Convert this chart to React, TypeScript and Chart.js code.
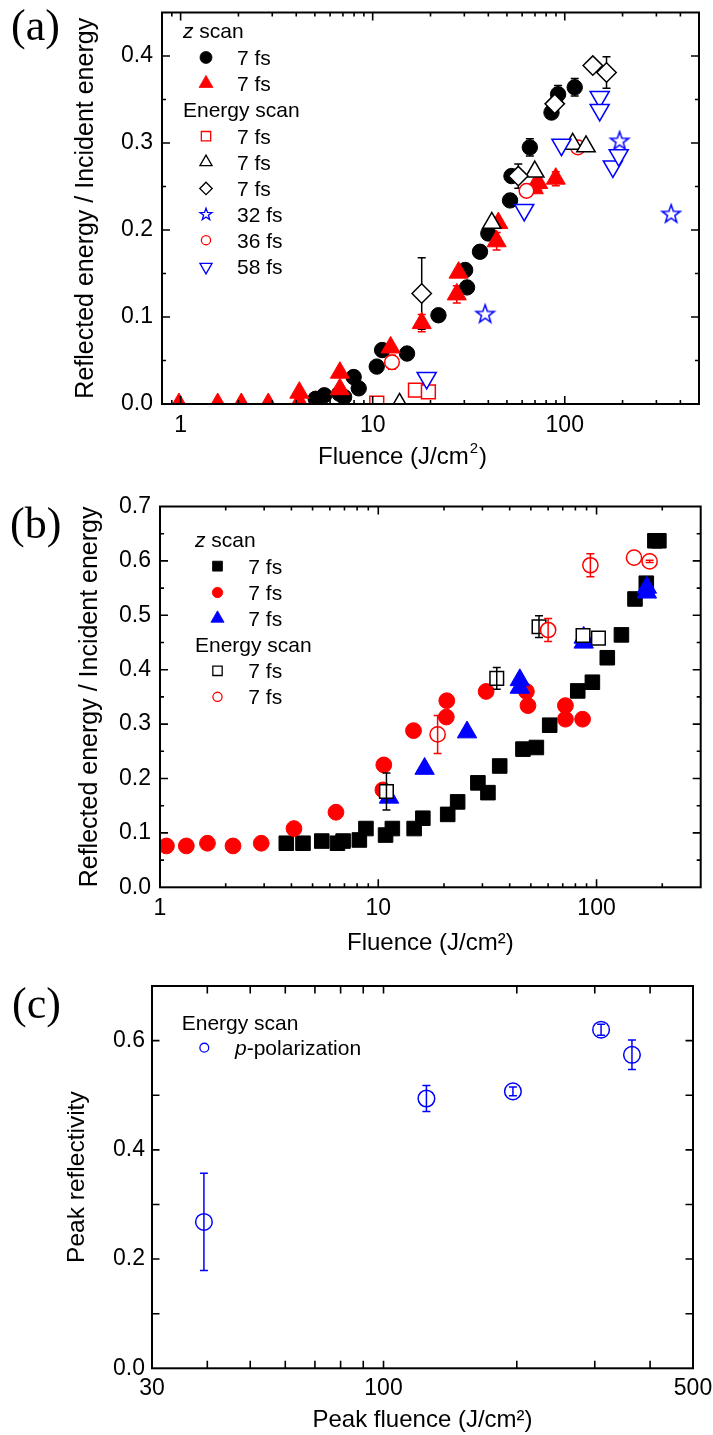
import React, { useEffect, useRef } from 'react';
import { Chart, registerables } from 'chart.js';

Chart.register(...registerables);

const SANS = '"Liberation Sans", Arial, Helvetica, sans-serif';
const SERIF = '"Liberation Serif", "Times New Roman", serif';
const RED = '#ff0000';
const BLUE = '#0000ff';
const BLACK = '#000000';

// ================= Panel (a) data =================
const A_X_TICKS = [1, 10, 100];
const A_Y_TICKS = [0, 0.1, 0.2, 0.3, 0.4];

const A_ZSCAN_CIRCLE_X = [5.05, 5.6, 6.7, 7.1, 7.96, 8.46, 10.5, 11.2, 15.1, 22, 30.3, 31, 36.2, 40, 51.9, 52.8, 65.8, 85.3, 92.3, 112.7];
const A_ZSCAN_CIRCLE_Y = [0.006, 0.01, 0.012, 0.008, 0.031, 0.018, 0.043, 0.062, 0.058, 0.102, 0.154, 0.134, 0.175, 0.196, 0.234, 0.262, 0.295, 0.335, 0.356, 0.364];
const A_ZSCAN_CIRCLE_ERR = [0, 0, 0, 0, 0, 0, 0, 0, 0, 0, 0, 0, 0, 0, 0, 0, 0.01, 0, 0.01, 0.01];

const A_ZSCAN_TRI_X = [0.98, 1.56, 2.07, 2.86, 4.15, 4.15, 6.75, 6.75, 12.4, 18.0, 27.4, 28.0, 44.2, 45.1, 69, 72.8, 89.8];
const A_ZSCAN_TRI_Y = [0, 0, 0, 0, 0.013, 0.002, 0.036, 0.017, 0.065, 0.093, 0.126, 0.151, 0.187, 0.208, 0.248, 0.254, 0.259];
const A_ZSCAN_TRI_ERR = [0, 0, 0, 0, 0, 0, 0, 0, 0, 0.01, 0.01, 0, 0.01, 0, 0, 0.008, 0.008];

const A_E_SQUARE_X = [10.5, 16.7, 19.5];
const A_E_SQUARE_Y = [0.001, 0.016, 0.014];

const A_E_CIRCLE36_X = [12.6, 63.2, 117];
const A_E_CIRCLE36_Y = [0.048, 0.245, 0.295];
const A_E_CIRCLE36_ERR = [0.008, 0.006, 0];

const A_E_TRI_X = [13.8, 41.7, 69.8, 110, 129];
const A_E_TRI_Y = [0, 0.208, 0.267, 0.299, 0.296];

const A_E_DIAMOND_X = [18.0, 57.3, 88.7, 140, 165];
const A_E_DIAMOND_Y = [0.127, 0.262, 0.345, 0.389, 0.381];
const A_E_DIAMOND_ERR = [0.041, 0.014, 0, 0.005, 0.018];

const A_E_STAR32_X = [38.5, 193, 358];
const A_E_STAR32_Y = [0.104, 0.303, 0.219];

const A_E_DTRI58_X = [19.1, 61.5, 96.1, 152, 152, 178, 191];
const A_E_DTRI58_Y = [0.03, 0.223, 0.298, 0.353, 0.338, 0.273, 0.286];

// ================= Panel (b) data =================
const B_X_TICKS = [1, 10, 100];
const B_Y_TICKS = [0, 0.1, 0.2, 0.3, 0.4, 0.5, 0.6, 0.7];

const B_ZSCAN_SQ_X = [3.79, 4.52, 5.51, 6.5, 6.9, 8.19, 8.78, 10.8, 11.6, 14.6, 16.0, 20.8, 23.1, 28.6, 31.8, 36, 46, 53, 61, 82, 95.7, 112, 130, 150, 169, 185, 193];
const B_ZSCAN_SQ_Y = [0.081, 0.081, 0.085, 0.081, 0.085, 0.087, 0.108, 0.096, 0.108, 0.108, 0.127, 0.134, 0.157, 0.192, 0.174, 0.223, 0.254, 0.257, 0.298, 0.361, 0.377, 0.422, 0.464, 0.53, 0.559, 0.637, 0.637];

const B_ZSCAN_CIR_X = [1.07, 1.32, 1.65, 2.16, 2.91, 4.11, 6.4, 10.5, 10.6, 14.5, 20.5, 20.6, 31.2, 47.7, 48.5, 72, 72, 86.3];
const B_ZSCAN_CIR_Y = [0.076, 0.076, 0.081, 0.076, 0.081, 0.108, 0.138, 0.179, 0.225, 0.288, 0.313, 0.343, 0.36, 0.36, 0.334, 0.334, 0.309, 0.309];

const B_ZSCAN_TRI_X = [11.2, 16.3, 25.5, 44.5, 44.5, 87.3, 87.3, 170, 170];
const B_ZSCAN_TRI_Y = [0.165, 0.218, 0.285, 0.381, 0.367, 0.459, 0.45, 0.551, 0.542];

const B_E_SQ_X = [10.9, 34.9, 54.5, 86.7, 102];
const B_E_SQ_Y = [0.176, 0.384, 0.479, 0.463, 0.458];
const B_E_SQ_ERR = [0.034, 0.02, 0.02, 0, 0];

const B_E_CIR_X = [18.7, 60, 93.7, 148.5, 175];
const B_E_CIR_Y = [0.281, 0.473, 0.592, 0.606, 0.599];
const B_E_CIR_ERR = [0.035, 0.021, 0.021, 0, 0.002];

// ================= Panel (c) data =================
const C_X_TICKS = [30, 100, 500];
const C_Y_TICKS = [0, 0.2, 0.4, 0.6];
const C_P_X = [39.3, 125, 196, 310, 364];
const C_P_Y = [0.268, 0.494, 0.507, 0.62, 0.574];
const C_P_ERR = [0.089, 0.024, 0.008, 0.01, 0.027];

// ================= Types & helpers =================
type MStyle = 'circle' | 'triangle' | 'triangleDown' | 'rect' | 'rectRot' | 'star';

interface Series {
  label: string;
  x: number[];
  y: number[];
  err?: number[];
  style: MStyle;
  color: string;
  filled: boolean;
  r: number;
}

interface LegendRow {
  y: number;
  header?: string;
  italic?: string;
  series?: number;
  mr?: number;
  text?: string;
}

interface Panel {
  top: number;
  height: number;
  area: { left: number; right: number; top: number; bottom: number };
  xMin: number; xMax: number; yMin: number; yMax: number;
  xLabels: number[]; yLabels: number[];
  xMajor: number[]; xMinor: number[]; yMajor: number[]; yMinor: number[];
  majorLen: number; minorLen: number;
  xTickPad: number; yTickPad: number;
  yTitle: string; yTitleX: number; yTitleSize: number;
  xTitle: string; xTitleNative: boolean; xTitleOffset: number;
  xTitleCX?: number; xTitleBase?: number;
  errOnTop: boolean;
  series: Series[];
  legend: { headerX: number; markerX: number; textX: number; size: number; rows: LegendRow[] };
}

function logMinor(min: number, max: number): number[] {
  const out: number[] = [];
  for (let e = Math.floor(Math.log10(min)); e <= Math.ceil(Math.log10(max)); e++) {
    for (let k = 2; k <= 9; k++) {
      const v = +(k * Math.pow(10, e)).toPrecision(6);
      if (v > min * 1.0001 && v < max * 0.9999) out.push(v);
    }
  }
  return out;
}

function markerPath(ctx: CanvasRenderingContext2D, style: MStyle, x: number, y: number, r: number) {
  ctx.beginPath();
  if (style === 'circle') {
    ctx.arc(x, y, r, 0, Math.PI * 2);
  } else if (style === 'triangle' || style === 'triangleDown') {
    const s = style === 'triangle' ? 1 : -1;
    ctx.moveTo(x, y - s * r);
    ctx.lineTo(x + 0.866 * r, y + s * 0.5 * r);
    ctx.lineTo(x - 0.866 * r, y + s * 0.5 * r);
    ctx.closePath();
  } else if (style === 'rect') {
    const h = r * Math.SQRT1_2;
    ctx.rect(x - h, y - h, 2 * h, 2 * h);
  } else if (style === 'rectRot') {
    ctx.moveTo(x - r, y);
    ctx.lineTo(x, y - r);
    ctx.lineTo(x + r, y);
    ctx.lineTo(x, y + r);
    ctx.closePath();
  } else {
    for (let i = 0; i < 10; i++) {
      const rr = i % 2 ? r * 0.4 : r;
      const a = (i * Math.PI) / 5;
      const px = x + rr * Math.sin(a);
      const py = y - rr * Math.cos(a);
      if (i) ctx.lineTo(px, py);
      else ctx.moveTo(px, py);
    }
    ctx.closePath();
  }
}

function starImage(R: number, color: string, lw: number): HTMLCanvasElement {
  const size = 2 * Math.ceil(R + lw + 1);
  const c = document.createElement('canvas');
  c.width = size;
  c.height = size;
  const g = c.getContext('2d')!;
  markerPath(g, 'star', size / 2, size / 2 + R * 0.095, R);
  g.fillStyle = '#ffffff';
  g.fill();
  g.lineWidth = lw;
  g.strokeStyle = color;
  g.stroke();
  return c;
}

// ================= Panel configs =================
const PANEL_A: Panel = {
  top: 0,
  height: 470,
  area: { left: 162, right: 699, top: 11, bottom: 404 },
  xMin: 0.8, xMax: 500, yMin: 0, yMax: 0.45,
  xLabels: A_X_TICKS, yLabels: A_Y_TICKS,
  xMajor: A_X_TICKS, xMinor: logMinor(0.8, 500),
  yMajor: A_Y_TICKS, yMinor: [0.05, 0.15, 0.25, 0.35],
  majorLen: 8, minorLen: 4,
  xTickPad: 8, yTickPad: 9,
  yTitle: 'Reflected energy / Incident energy', yTitleX: 86, yTitleSize: 25,
  xTitle: 'Fluence (J/cm²)', xTitleNative: false, xTitleOffset: 15, xTitleCX: 402.5, xTitleBase: 463.5,
  errOnTop: false,
  series: [
    { label: 'z scan 7 fs', x: A_ZSCAN_CIRCLE_X, y: A_ZSCAN_CIRCLE_Y, err: A_ZSCAN_CIRCLE_ERR, style: 'circle', color: BLACK, filled: true, r: 7.7 },
    { label: 'z scan 7 fs', x: A_ZSCAN_TRI_X, y: A_ZSCAN_TRI_Y, err: A_ZSCAN_TRI_ERR, style: 'triangle', color: RED, filled: true, r: 11 },
    { label: 'Energy scan 7 fs', x: A_E_SQUARE_X, y: A_E_SQUARE_Y, style: 'rect', color: RED, filled: false, r: 9.8 },
    { label: 'Energy scan 36 fs', x: A_E_CIRCLE36_X, y: A_E_CIRCLE36_Y, err: A_E_CIRCLE36_ERR, style: 'circle', color: RED, filled: false, r: 7.3 },
    { label: 'Energy scan 7 fs', x: A_E_TRI_X, y: A_E_TRI_Y, style: 'triangle', color: BLACK, filled: false, r: 10.6 },
    { label: 'Energy scan 7 fs', x: A_E_DIAMOND_X, y: A_E_DIAMOND_Y, err: A_E_DIAMOND_ERR, style: 'rectRot', color: BLACK, filled: false, r: 9.7 },
    { label: 'Energy scan 32 fs', x: A_E_STAR32_X, y: A_E_STAR32_Y, style: 'star', color: BLUE, filled: false, r: 9.6 },
    { label: 'Energy scan 58 fs', x: A_E_DTRI58_X, y: A_E_DTRI58_Y, style: 'triangleDown', color: BLUE, filled: false, r: 11 },
  ],
  legend: {
    headerX: 183, markerX: 206, textX: 237, size: 21,
    rows: [
      { y: 38.3, italic: 'z', header: ' scan' },
      { y: 64.8, series: 0, mr: 6, text: '7 fs' },
      { y: 90.8, series: 1, mr: 8, text: '7 fs' },
      { y: 117.2, header: 'Energy scan' },
      { y: 143.5, series: 2, mr: 6.6, text: '7 fs' },
      { y: 169.5, series: 4, mr: 7, text: '7 fs' },
      { y: 195.8, series: 5, mr: 6.2, text: '7 fs' },
      { y: 221.8, series: 6, mr: 6.3, text: '32 fs' },
      { y: 247.5, series: 3, mr: 4.6, text: '36 fs' },
      { y: 274.2, series: 7, mr: 7, text: '58 fs' },
    ],
  },
};

const PANEL_B: Panel = {
  top: 470,
  height: 490,
  area: { left: 160, right: 700.7, top: 36.5, bottom: 417.3 },
  xMin: 1, xMax: 300, yMin: 0, yMax: 0.7,
  xLabels: B_X_TICKS, yLabels: B_Y_TICKS,
  xMajor: B_X_TICKS, xMinor: logMinor(1, 300),
  yMajor: B_Y_TICKS, yMinor: [0.05, 0.15, 0.25, 0.35, 0.45, 0.55, 0.65],
  majorLen: 8, minorLen: 4,
  xTickPad: 8, yTickPad: 9,
  yTitle: 'Reflected energy / Incident energy', yTitleX: 90, yTitleSize: 25,
  xTitle: 'Fluence (J/cm²)', xTitleNative: true, xTitleOffset: 17,
  errOnTop: true,
  series: [
    { label: 'z scan 7 fs', x: B_ZSCAN_SQ_X, y: B_ZSCAN_SQ_Y, style: 'rect', color: BLACK, filled: true, r: 10.3 },
    { label: 'z scan 7 fs', x: B_ZSCAN_CIR_X, y: B_ZSCAN_CIR_Y, style: 'circle', color: RED, filled: true, r: 7.9 },
    { label: 'z scan 7 fs', x: B_ZSCAN_TRI_X, y: B_ZSCAN_TRI_Y, style: 'triangle', color: BLUE, filled: true, r: 11.2 },
    { label: 'Energy scan 7 fs', x: B_E_SQ_X, y: B_E_SQ_Y, err: B_E_SQ_ERR, style: 'rect', color: BLACK, filled: false, r: 9.6 },
    { label: 'Energy scan 7 fs', x: B_E_CIR_X, y: B_E_CIR_Y, err: B_E_CIR_ERR, style: 'circle', color: RED, filled: false, r: 7.6 },
  ],
  legend: {
    headerX: 195, markerX: 217.5, textX: 248.3, size: 21,
    rows: [
      { y: 76.7, italic: 'z', header: ' scan' },
      { y: 103.5, series: 0, mr: 7, text: '7 fs' },
      { y: 129.8, series: 1, mr: 5.2, text: '7 fs' },
      { y: 155.8, series: 2, mr: 7.6, text: '7 fs' },
      { y: 182.3, header: 'Energy scan' },
      { y: 208.2, series: 3, mr: 6.6, text: '7 fs' },
      { y: 234.2, series: 4, mr: 4.6, text: '7 fs' },
    ],
  },
};

const PANEL_C: Panel = {
  top: 960,
  height: 475,
  area: { left: 152, right: 693, top: 26, bottom: 408.3 },
  xMin: 30, xMax: 500, yMin: 0, yMax: 0.7,
  xLabels: C_X_TICKS, yLabels: C_Y_TICKS,
  xMajor: [100], xMinor: [40, 50, 60, 70, 80, 90, 200, 300, 400],
  yMajor: C_Y_TICKS, yMinor: [0.1, 0.3, 0.5],
  majorLen: 7.5, minorLen: 7.5,
  xTickPad: 7, yTickPad: 7,
  yTitle: 'Peak reflectivity', yTitleX: 77.4, yTitleSize: 24.5,
  xTitle: 'Peak fluence (J/cm²)', xTitleNative: true, xTitleOffset: 14.8,
  errOnTop: true,
  series: [
    { label: 'p-polarization', x: C_P_X, y: C_P_Y, err: C_P_ERR, style: 'circle', color: BLUE, filled: false, r: 8.3 },
  ],
  legend: {
    headerX: 181.7, markerX: 204.3, textX: 235, size: 21,
    rows: [
      { y: 70, header: 'Energy scan' },
      { y: 95, series: 0, mr: 4.4, italic: 'p', text: '-polarization' },
    ],
  },
};

// ================= Drawing plugin =================
function drawErrors(chart: any, p: Panel) {
  const ctx: CanvasRenderingContext2D = chart.ctx;
  const xs = chart.scales.x;
  const ys = chart.scales.y;
  const a = chart.chartArea;
  ctx.save();
  ctx.beginPath();
  ctx.rect(a.left, a.top, a.right - a.left, a.bottom - a.top);
  ctx.clip();
  p.series.forEach((s) => {
    if (!s.err) return;
    ctx.strokeStyle = s.color;
    ctx.lineWidth = 1.5;
    s.x.forEach((xv, i) => {
      const e = s.err![i];
      if (!e) return;
      const px = xs.getPixelForValue(xv);
      const y1 = ys.getPixelForValue(s.y[i] + e);
      const y2 = ys.getPixelForValue(s.y[i] - e);
      ctx.beginPath();
      ctx.moveTo(px, y1);
      ctx.lineTo(px, y2);
      ctx.moveTo(px - 4, y1);
      ctx.lineTo(px + 4, y1);
      ctx.moveTo(px - 4, y2);
      ctx.lineTo(px + 4, y2);
      ctx.stroke();
    });
  });
  ctx.restore();
}

function makeDecor(p: Panel) {
  return {
    id: 'decor',
    beforeDatasetsDraw(chart: any) {
      if (!p.errOnTop) drawErrors(chart, p);
    },
    afterDatasetsDraw(chart: any) {
      if (p.errOnTop) drawErrors(chart, p);
    },
    afterDraw(chart: any) {
      const ctx: CanvasRenderingContext2D = chart.ctx;
      const xs = chart.scales.x;
      const ys = chart.scales.y;
      const a = chart.chartArea;
      ctx.save();
      // frame
      ctx.strokeStyle = '#000';
      ctx.lineWidth = 2;
      ctx.strokeRect(a.left, a.top, a.right - a.left, a.bottom - a.top);
      // ticks
      ctx.lineWidth = 1.6;
      const xt = (vals: number[], len: number) => {
        vals.forEach((v) => {
          const px = xs.getPixelForValue(v);
          if (px <= a.left + 1 || px >= a.right - 1) return;
          ctx.beginPath();
          ctx.moveTo(px, a.bottom);
          ctx.lineTo(px, a.bottom - len);
          ctx.moveTo(px, a.top);
          ctx.lineTo(px, a.top + len);
          ctx.stroke();
        });
      };
      const yt = (vals: number[], len: number) => {
        vals.forEach((v) => {
          const py = ys.getPixelForValue(v);
          if (py <= a.top + 1 || py >= a.bottom - 1) return;
          ctx.beginPath();
          ctx.moveTo(a.left, py);
          ctx.lineTo(a.left + len, py);
          ctx.moveTo(a.right, py);
          ctx.lineTo(a.right - len, py);
          ctx.stroke();
        });
      };
      xt(p.xMajor, p.majorLen);
      xt(p.xMinor, p.minorLen);
      yt(p.yMajor, p.majorLen);
      yt(p.yMinor, p.minorLen);

      // legend
      const L = p.legend;
      ctx.fillStyle = '#000';
      ctx.textBaseline = 'alphabetic';
      ctx.textAlign = 'left';
      L.rows.forEach((row) => {
        let x = row.series !== undefined ? L.textX : L.headerX;
        if (row.series !== undefined) {
          const s = p.series[row.series];
          const cy = row.y - 0.35 * L.size;
          markerPath(ctx, s.style, L.markerX, cy, row.mr || 5);
          ctx.fillStyle = s.filled ? s.color : '#fff';
          ctx.fill();
          ctx.lineWidth = s.filled ? 0.8 : 1.3;
          ctx.strokeStyle = s.color;
          ctx.stroke();
          ctx.fillStyle = '#000';
        }
        if (row.italic) {
          ctx.font = `italic ${L.size}px ${SANS}`;
          ctx.fillText(row.italic, x, row.y);
          x += ctx.measureText(row.italic).width;
        }
        ctx.font = `${L.size}px ${SANS}`;
        const t = row.series !== undefined ? row.text || '' : row.header || '';
        ctx.fillText(t, x, row.y);
      });

      // custom x title with superscript
      if (!p.xTitleNative && p.xTitleCX !== undefined && p.xTitleBase !== undefined) {
        const size = 24;
        const main = 'Fluence (J/cm';
        const sup = '2';
        const end = ')';
        ctx.font = `${size}px ${SANS}`;
        const w1 = ctx.measureText(main).width;
        const w3 = ctx.measureText(end).width;
        ctx.font = `${Math.round(size * 0.62)}px ${SANS}`;
        const w2 = ctx.measureText(sup).width;
        let x = p.xTitleCX - (w1 + w2 + w3 + 2) / 2;
        ctx.font = `${size}px ${SANS}`;
        ctx.fillText(main, x, p.xTitleBase);
        x += w1 + 1;
        ctx.font = `${Math.round(size * 0.62)}px ${SANS}`;
        ctx.fillText(sup, x, p.xTitleBase - size * 0.42);
        x += w2 + 1;
        ctx.font = `${size}px ${SANS}`;
        ctx.fillText(end, x, p.xTitleBase);
      }
      ctx.restore();
    },
  };
}

function buildConfig(p: Panel): any {
  const W = 713;
  const datasets = p.series.map((s, i) => ({
    label: s.label,
    data: s.x.map((v, k) => ({ x: v, y: s.y[k] })),
    pointStyle: s.style === 'star' ? starImage(s.r, s.color, 1.5) : s.style === 'triangleDown' ? 'triangle' : s.style,
    pointRotation: s.style === 'triangleDown' ? 180 : 0,
    pointRadius: s.r,
    pointHoverRadius: s.r,
    pointBackgroundColor: s.filled ? s.color : '#ffffff',
    pointBorderColor: s.color,
    pointBorderWidth: s.filled ? 1 : 1.5,
    showLine: false,
    order: 100 - i,
    clip: 0,
  }));
  const tickFont = { family: SANS, size: 23 };
  const titleFont = { family: SANS, size: 24 };
  const yTitleFont = { family: SANS, size: p.yTitleSize };
  return {
    type: 'scatter',
    data: { datasets },
    options: {
      animation: false,
      responsive: false,
      maintainAspectRatio: false,
      events: [],
      layout: { padding: { left: 0, right: W - p.area.right, top: p.area.top, bottom: 0 } },
      plugins: { legend: { display: false }, tooltip: { enabled: false }, title: { display: false } },
      scales: {
        x: {
          type: 'logarithmic',
          position: 'bottom',
          min: p.xMin,
          max: p.xMax,
          grid: { display: false, drawTicks: false },
          border: { display: false },
          afterBuildTicks: (s: any) => {
            s.ticks = p.xLabels.map((v) => ({ value: v }));
          },
          afterFit: (s: any) => {
            s.height = p.height - p.area.bottom;
            s.paddingLeft = 0;
            s.paddingRight = 0;
          },
          ticks: {
            autoSkip: false,
            maxRotation: 0,
            minRotation: 0,
            padding: p.xTickPad,
            color: '#000',
            font: tickFont,
            callback: (v: any) => String(v),
          },
          title: {
            display: p.xTitleNative,
            text: p.xTitle,
            color: '#000',
            font: titleFont,
            padding: { top: 0, bottom: Math.max(0, p.xTitleOffset - 14.4) },
          },
        },
        y: {
          type: 'linear',
          position: 'left',
          min: p.yMin,
          max: p.yMax,
          grid: { display: false, drawTicks: false },
          border: { display: false },
          afterBuildTicks: (s: any) => {
            s.ticks = p.yLabels.map((v) => ({ value: v }));
          },
          afterFit: (s: any) => {
            s.width = p.area.left;
            s.paddingTop = 0;
            s.paddingBottom = 0;
          },
          ticks: {
            autoSkip: false,
            padding: p.yTickPad,
            color: '#000',
            font: tickFont,
            callback: (v: any) => Number(v).toFixed(1),
          },
          title: {
            display: true,
            text: p.yTitle,
            color: '#000',
            font: yTitleFont,
            padding: { top: p.yTitleX - p.yTitleSize * 0.6, bottom: 0 },
          },
        },
      },
    },
    plugins: [makeDecor(p)],
  };
}

function PanelChart({ p }: { p: Panel }) {
  const ref = useRef<HTMLCanvasElement>(null);
  useEffect(() => {
    const canvas = ref.current;
    if (!canvas) return;
    const chart = new Chart(canvas, buildConfig(p));
    return () => chart.destroy();
  }, [p]);
  return (
    <canvas
      ref={ref}
      width={713}
      height={p.height}
      style={{ position: 'absolute', left: 0, top: p.top, width: 713, height: p.height }}
    />
  );
}

const labelStyle = (left: number, top: number): React.CSSProperties => ({
  position: 'absolute',
  left,
  top,
  fontFamily: SERIF,
  fontSize: 44,
  lineHeight: '44px',
  color: '#000',
  whiteSpace: 'nowrap',
});

export default function App() {
  return (
    <div style={{ position: 'absolute', left: 0, top: 0, width: 713, height: 1435, background: '#fff', overflow: 'hidden' }}>
      <PanelChart p={PANEL_A} />
      <PanelChart p={PANEL_B} />
      <PanelChart p={PANEL_C} />
      <div style={labelStyle(11, 4)}>(a)</div>
      <div style={labelStyle(10, 501.5)}>(b)</div>
      <div style={labelStyle(12, 981.5)}>(c)</div>
    </div>
  );
}
